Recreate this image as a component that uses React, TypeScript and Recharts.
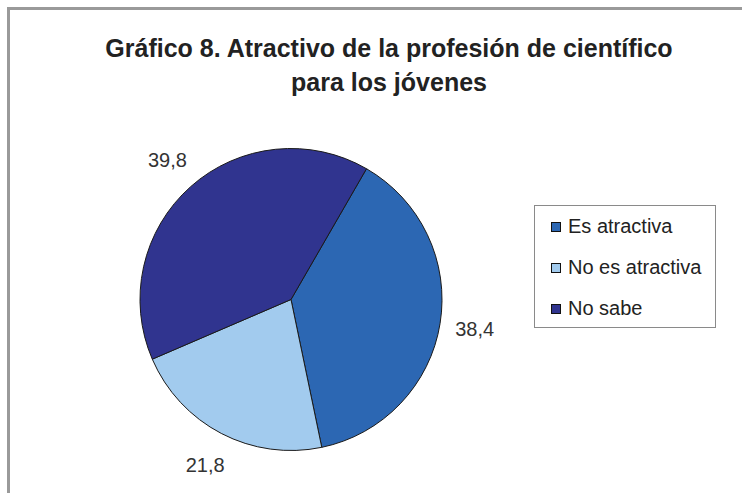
import React from "react";
import { PieChart, Pie, Cell, Legend } from "recharts";

const categories = ["Es atractiva", "No es atractiva", "No sabe"];
const values = [38.4, 21.8, 39.8];
const colors = ["#2c67b3", "#a2cbee", "#30348f"];
const titleLines = ["Gráfico 8. Atractivo de la profesión de científico", "para los jóvenes"];

const data = categories.map((name, i) => ({ name, value: values[i] }));

const FONT = "'Liberation Sans', Arial, sans-serif";
const RAD = Math.PI / 180;

const renderLabel = (props: any) => {
  const { cx, cy, midAngle, outerRadius, value } = props;
  const d = outerRadius + 35;
  const x = cx + d * Math.cos(-midAngle * RAD);
  const y = cy + d * Math.sin(-midAngle * RAD);
  return (
    <text
      x={x}
      y={y}
      textAnchor="middle"
      dominantBaseline="central"
      fontFamily={FONT}
      fontSize={20}
      fill="#333"
    >
      {String(value).replace(".", ",")}
    </text>
  );
};

const LegendContent = () => (
  <div
    style={{
      width: 182,
      height: 123,
      border: "1px solid #8a8a8a",
      background: "#fff",
      boxSizing: "border-box",
      fontFamily: FONT,
      fontSize: 20,
      color: "#222",
    }}
  >
    {categories.map((c, i) => (
      <div key={c} style={{ display: "flex", alignItems: "center", height: 41 }}>
        <span
          style={{
            display: "inline-block",
            width: 8,
            height: 8,
            background: colors[i],
            border: "1px solid #111",
            marginLeft: 16,
            marginRight: 7,
          }}
        />
        <span>{c}</span>
      </div>
    ))}
  </div>
);

export default function App() {
  return (
    <div style={{ position: "absolute", left: 0, top: 0, width: 742, height: 493, background: "#fff", overflow: "hidden" }}>
      <div
        style={{
          position: "absolute",
          left: 7,
          top: 7,
          width: 760,
          height: 520,
          border: "3px solid #9a9a9a",
          boxSizing: "border-box",
        }}
      />
      <div
        style={{
          position: "absolute",
          left: 0,
          width: 778,
          top: 31,
          textAlign: "center",
          fontFamily: FONT,
          fontWeight: "bold",
          fontSize: 25,
          lineHeight: "34px",
          color: "#222",
          whiteSpace: "nowrap",
        }}
      >
        {titleLines.map((t) => (
          <div key={t}>{t}</div>
        ))}
      </div>
      <div style={{ position: "absolute", left: 0, top: 0 }}>
        <PieChart width={742} height={493} margin={{ top: 0, right: 0, bottom: 0, left: 0 }}>
          <Pie
            data={data}
            dataKey="value"
            nameKey="name"
            cx={291}
            cy={299.5}
            outerRadius={151}
            startAngle={60}
            endAngle={-300}
            stroke="#1a1a1a"
            strokeWidth={1}
            label={renderLabel}
            labelLine={false}
            isAnimationActive={false}
          >
            {data.map((d, i) => (
              <Cell key={d.name} fill={colors[i]} />
            ))}
          </Pie>
          <Legend
            content={<LegendContent />}
            layout="vertical"
            wrapperStyle={{ position: "absolute", left: 534, top: 205, width: 182 }}
          />
        </PieChart>
      </div>
    </div>
  );
}
